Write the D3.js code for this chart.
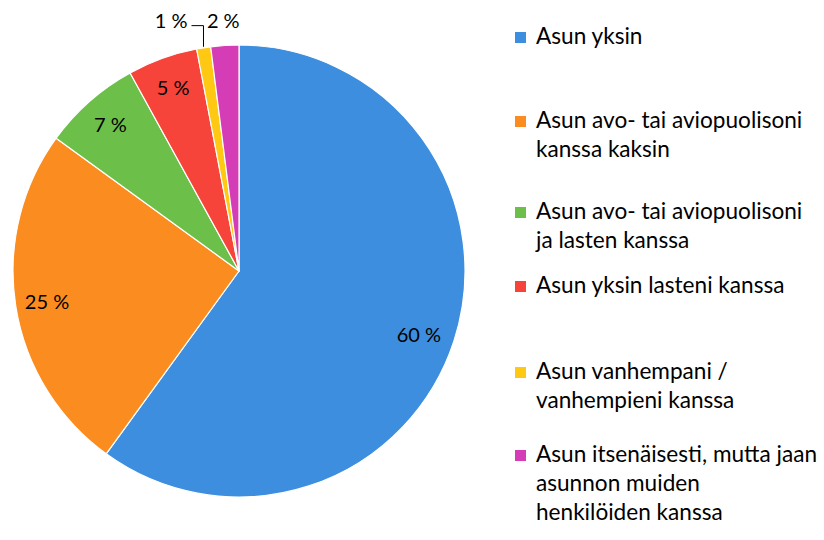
<!DOCTYPE html>
<html><head><meta charset="utf-8">
<script src="https://cdn.jsdelivr.net/npm/d3@7"></script>
<style>body{margin:0;background:#fff}svg{display:block}</style>
</head><body>
<svg id="c" width="824" height="540"></svg>
<script>
const categories = [
  "Asun yksin",
  "Asun avo- tai aviopuolisoni|kanssa kaksin",
  "Asun avo- tai aviopuolisoni|ja lasten kanssa",
  "Asun yksin lasteni kanssa",
  "Asun vanhempani /|vanhempieni kanssa",
  "Asun itsenäisesti, mutta jaan|asunnon muiden|henkilöiden kanssa"
];
const values = [60, 25, 7, 5, 1, 2];
const labels = ["60 %", "25 %", "7 %", "5 %", "1 %", "2 %"];
const colors = ["#3d8ede", "#fb8d20", "#6cbf49", "#f6443a", "#ffc813", "#d43db6"];
const legendTops = [44, 128, 219, 293, 379, 462];

const svg = d3.select("#c");
const font = "Lato, 'Liberation Sans', sans-serif";
const cx = 239, cy = 271, R = 226;

const pie = d3.pie().sort(null).value(d => d)(values);
const arc = d3.arc().innerRadius(0).outerRadius(R);
const g = svg.append("g").attr("transform", `translate(${cx},${cy})`);
g.selectAll("path").data(pie).join("path")
  .attr("d", arc).attr("fill", (d, i) => colors[i])
  .attr("stroke", "#fff").attr("stroke-width", 1.2).attr("stroke-linejoin", "round");

const inArc = d3.arc().innerRadius(R * 0.86).outerRadius(R * 0.86);
const outArc = d3.arc().innerRadius(R * 1.11).outerRadius(R * 1.11);
const fs = 20;
pie.forEach((d, i) => {
  const frac = values[i] / d3.sum(values);
  let x, y, anchor = "middle";
  if (frac >= 0.04) {
    [x, y] = inArc.centroid(d);
    if (i === 0) { x -= 5; y += 4; }
  } else if (i === pie.length - 1) {
    [x, y] = outArc.centroid(d);
  } else {
    // leader-line label
    const mid = (d.startAngle + d.endAngle) / 2;
    const px = Math.sin(mid) * (R + 1), py = -Math.cos(mid) * (R + 1);
    const [, ly] = outArc.centroid(pie[pie.length - 1]);
    const lyLine = ly + 5;
    const lx = px - 12;
    g.append("path").attr("d", `M${px},${py}L${px},${lyLine}L${lx},${lyLine}`)
      .attr("fill", "none").attr("stroke", "#000").attr("stroke-width", 1);
    x = lx - 4; y = ly; anchor = "end";
  }
  g.append("text").attr("x", x).attr("y", y).attr("dy", "0.36em")
    .attr("text-anchor", anchor).attr("font-family", font).attr("font-size", fs)
    .attr("fill", "#000").text(labels[i]);
});

const lg = svg.append("g");
categories.forEach((c, i) => {
  const base = legendTops[i];
  lg.append("rect").attr("x", 515).attr("y", base - 12).attr("width", 11).attr("height", 11)
    .attr("fill", colors[i]);
  const t = lg.append("text").attr("font-family", font).attr("font-size", 22.6).attr("fill", "#000");
  c.split("|").forEach((line, j) => {
    t.append("tspan").attr("x", 536).attr("y", base + j * 29).text(line);
  });
});
</script>
</body></html>
